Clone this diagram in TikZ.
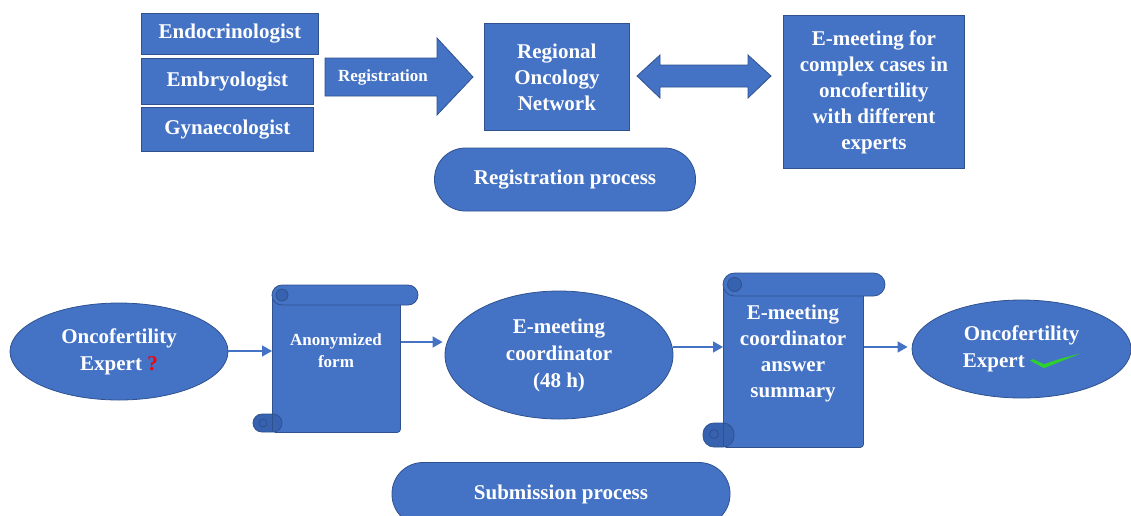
\documentclass[tikz,border=0pt]{standalone}
\usepackage{fontspec}
\setmainfont{Liberation Serif}
\usetikzlibrary{arrows.meta,shapes.geometric}
\definecolor{fillb}{HTML}{4472C4}
\definecolor{lineb}{HTML}{2F528F}
\definecolor{darkb}{HTML}{3762B0}
\definecolor{chk}{HTML}{2ED02E}
\begin{document}
\begin{tikzpicture}[x=1pt,y=-1pt,
  box/.style={draw=lineb, line width=0.8pt, fill=fillb, text=white,
    font=\bfseries\fontsize{21}{26}\selectfont, align=center, inner sep=0pt},
  ell/.style={box, ellipse, font=\bfseries\fontsize{21}{27}\selectfont},
  stadium/.style={box, rounded corners=31pt, minimum height=63},
  txt/.style={text=white, align=center, inner sep=0pt},
  conn/.style={draw=fillb, line width=1.5pt, -{Triangle[length=10pt,width=11pt]}},
  shapeb/.style={draw=lineb, line width=0.8pt, fill=fillb},
  curl/.style={draw=lineb, line width=0.8pt, fill=darkb}]
\useasboundingbox (0,0) rectangle (1131,515);
\clip (0,0) rectangle (1131,515);

% ---------- top row ----------
\node[box, minimum width=177, minimum height=41, anchor=north west] (endo) at (141,13) {Endocrinologist};
\node[box, minimum width=172, minimum height=46, anchor=north west] (embr) at (141,58) {Embryologist};
\node[box, minimum width=172, minimum height=44, anchor=north west] (gyn) at (141,107) {Gynaecologist};

% registration block arrow
\path[shapeb] (325,58) -- (437,58) -- (437,38) -- (473,77) -- (437,115) -- (437,96) -- (325,96) -- cycle;
\node[txt, font=\bfseries\fontsize{17}{20}\selectfont] (regt) at (383,77) {Registration};

\node[box, minimum width=145, minimum height=107, anchor=north west] (ron) at (484,23) {Regional\\Oncology\\Network};

% double block arrow
\path[shapeb] (637,76) -- (660,55) -- (660,65) -- (748,65) -- (748,55) -- (771,76) -- (748,98) -- (748,87) -- (660,87) -- (660,98) -- cycle;

\node[box, minimum width=181, minimum height=153, anchor=north west] (emeet) at (783,15) {E-meeting for\\complex cases in\\oncofertility\\with different\\experts};

\node[stadium, minimum width=261] (regp) at (565,179.5) {Registration process};

% ---------- bottom row ----------
\node[ell, minimum width=218, minimum height=97] (e1) at (119,351.5) {Oncofertility\\Expert {\color{red}?}};

% scroll 1
\node[box, rounded corners=3pt, minimum width=128, minimum height=137, anchor=north west] (s1) at (272,295) {};
\path[shapeb, rounded corners=10pt] (272,285) rectangle (418,305);
\path[curl] (282,295) circle (6);
\path[curl, rounded corners=9pt] (253,414) -- (282,414) -- (282,432) -- (253,432) -- cycle;
\draw[lineb, line width=0.8pt] (272,414) -- (272,432);
\draw[lineb, line width=0.8pt] (263,423) circle (4);
\node[txt, font=\bfseries\fontsize{17}{22}\selectfont] (s1t) at (336,351) {Anonymized\\form};

\node[ell, minimum width=228, minimum height=128] (e2) at (559,355) {E-meeting\\coordinator\\(48 h)};

% scroll 2
\node[box, rounded corners=3pt, minimum width=140, minimum height=162, anchor=north west] (s2) at (723,285) {};
\path[shapeb, rounded corners=11.5pt] (723,273) rectangle (885,296);
\path[curl] (734.5,284.5) circle (7);
\path[curl, rounded corners=11pt] (703,423) -- (734,423) -- (734,447) -- (703,447) -- cycle;
\draw[lineb, line width=0.8pt] (723,423) -- (723,447);
\draw[lineb, line width=0.8pt] (714,434) circle (4.5);
\node[txt, font=\bfseries\fontsize{21}{26}\selectfont] (s2t) at (793,353) {E-meeting\\coordinator\\answer\\summary};

\node[ell, minimum width=219, minimum height=98] (e3) at (1021.5,349) {Oncofertility\\Expert \tikz[baseline=0pt,x=1pt,y=1pt]\fill[chk] (0,7) -- (3,8.5) -- (14,3.5) .. controls (30,9) .. (50,14) .. controls (32,6) .. (14,-0.5) -- cycle;};

\node[stadium, minimum width=338] (subp) at (561,494) {Submission process};

% connectors
\coordinate (y1) at (0,351);
\coordinate (y2) at (0,342);
\coordinate (y3) at (0,347);
\draw[conn] (e1.east |- y1) -- (s1.west |- y1);
\draw[conn] (s1.east |- y2) -- ([xshift=-2pt]e2.west |- y2);
\draw[conn] (e2.east |- y3) -- (s2.west |- y3);
\draw[conn] (s2.east |- y3) -- ([xshift=-4pt]e3.west |- y3);
\end{tikzpicture}
\end{document}
